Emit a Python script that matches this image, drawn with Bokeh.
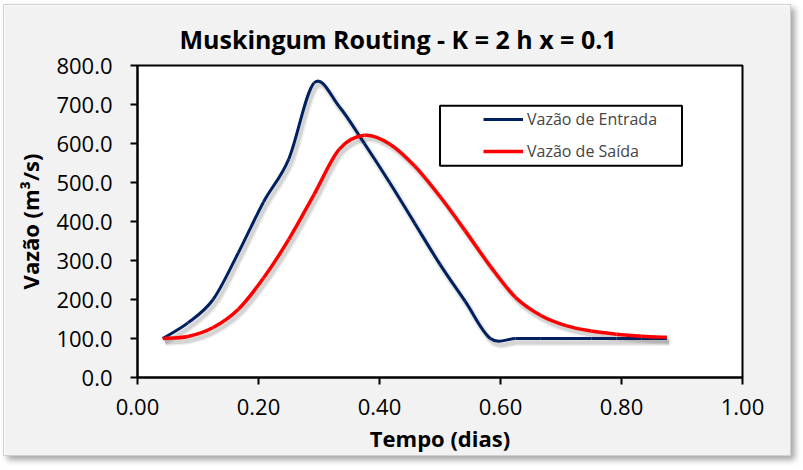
from bokeh.plotting import figure
from bokeh.models import Range1d, FixedTicker, PrintfTickFormatter, Legend, LegendItem, BoxAnnotation
from bokeh.embed import file_html
from bokeh.resources import INLINE

# ---- data ----
tempo = [0.0417, 0.0833, 0.1250, 0.1667, 0.2083, 0.2500, 0.2917, 0.3333, 0.3750, 0.4167, 0.4583,
         0.5000, 0.5417, 0.5833, 0.6250, 0.6667, 0.7083, 0.7500, 0.7917, 0.8333, 0.8750]
entrada = [100, 140, 200, 320, 450, 560, 755, 695, 600, 500, 395,
           290, 195, 100, 100, 100, 100, 100, 100, 100, 100]
saida = [100, 105, 128, 175, 255, 354, 469, 585, 621, 599, 542,
         464, 376, 285, 205, 159, 133, 119, 111, 106, 103]
x_ticks = [0.0, 0.2, 0.4, 0.6, 0.8, 1.0]
y_ticks = [0, 100, 200, 300, 400, 500, 600, 700, 800]
series_labels = ["Vazão de Entrada", "Vazão de Saída"]
title_text = "Muskingum Routing - K = 2 h  x = 0.1"
x_label = "Tempo (dias)"
y_label = "Vazão (m³/s)"

FONT = "Open Sans"


def smooth_segments(x, y):
    """Bezier segments through the data points (Excel-like smoothed line)."""
    n = len(x)
    seg = dict(x0=[], y0=[], x1=[], y1=[], cx0=[], cy0=[], cx1=[], cy1=[])
    for i in range(n - 1):
        ip = i - 1 if i > 0 else i
        inn = i + 2 if i + 2 < n else i + 1
        seg["x0"].append(x[i]); seg["y0"].append(y[i])
        seg["x1"].append(x[i + 1]); seg["y1"].append(y[i + 1])
        seg["cx0"].append(x[i] + (x[i + 1] - x[ip]) / 6.0)
        seg["cy0"].append(y[i] + (y[i + 1] - y[ip]) / 6.0)
        seg["cx1"].append(x[i + 1] - (x[inn] - x[i]) / 6.0)
        seg["cy1"].append(y[i + 1] - (y[inn] - y[i]) / 6.0)
    return seg


def shifted(seg, dx, dy):
    out = {}
    for k, v in seg.items():
        out[k] = [a + (dx if k.startswith(("x", "cx")) else dy) for a in v]
    return out


p = figure(width=788, height=452,
           x_range=Range1d(0, 1), y_range=Range1d(0, 800),
           output_backend="svg", toolbar_location=None,
           min_border_left=133, min_border_right=50,
           min_border_top=60, min_border_bottom=80,
           background_fill_color="white", border_fill_color="#F2F2F2",
           outline_line_color="black", outline_line_width=2)
p.margin = (4, 0, 0, 3)
p.styles = {"border": "1px solid #D0D0D0", "box-shadow": "4px 4px 6px rgba(0,0,0,0.35)"}

p.grid.visible = False

# title
p.title.text = title_text
p.title.text_font = FONT
p.title.text_font_size = "25px"
p.title.text_font_style = "bold"
p.title.text_color = "black"
p.title.align = "left"
p.title.offset = 42
p.title.standoff = 19

for ax in (p.xaxis, p.yaxis):
    ax.axis_line_width = 2
    ax.axis_line_color = "black"
    ax.major_tick_line_width = 2
    ax.major_tick_line_color = "black"
    ax.major_tick_out = 7
    ax.major_tick_in = 0
    ax.minor_tick_line_color = None
    ax.major_label_text_font = FONT
    ax.major_label_text_font_size = "22px"
    ax.major_label_text_color = "black"
    ax.axis_label_text_font = FONT
    ax.axis_label_text_font_size = "22px"
    ax.axis_label_text_font_style = "bold"
    ax.axis_label_text_color = "black"

p.xaxis.ticker = FixedTicker(ticks=x_ticks)
p.xaxis.formatter = PrintfTickFormatter(format="%.2f")
p.yaxis.ticker = FixedTicker(ticks=y_ticks)
p.yaxis.formatter = PrintfTickFormatter(format="%.1f")
p.xaxis.axis_label = x_label
p.yaxis.axis_label = y_label
p.xaxis.major_label_standoff = 14
p.yaxis.major_label_standoff = 18
p.xaxis.axis_label_standoff = 5
p.yaxis.axis_label_standoff = 8

seg_in = smooth_segments(tempo, entrada)
seg_out = smooth_segments(tempo, saida)

# soft drop shadows
for seg in (seg_in, seg_out):
    sh = shifted(seg, 0.004, -10)
    p.bezier(**sh, line_color="black", line_alpha=0.07, line_width=7)
    p.bezier(**sh, line_color="black", line_alpha=0.10, line_width=4)

r_in = p.bezier(**seg_in, line_color="#002060", line_width=3)
r_out = p.bezier(**seg_out, line_color="#FF0000", line_width=3.5)

box = BoxAnnotation(left=0.5, right=0.9, top=697, bottom=543,
                    fill_color="white", fill_alpha=1.0,
                    line_color="black", line_alpha=1.0, line_width=2)
p.add_layout(box)

legend = Legend(items=[LegendItem(label=series_labels[0], renderers=[r_in]),
                       LegendItem(label=series_labels[1], renderers=[r_out])],
                location=(346, 215), padding=0, margin=0, spacing=10,
                glyph_width=40, glyph_height=20, label_standoff=4,
                label_text_font=FONT, label_text_font_size="16px",
                border_line_alpha=0, background_fill_alpha=0)
p.add_layout(legend)

open("out.html", "w").write(file_html(p, INLINE))
